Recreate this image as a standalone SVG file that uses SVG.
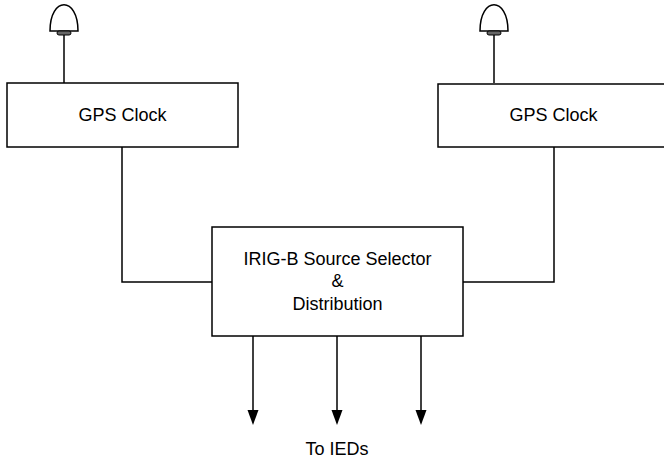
<svg xmlns="http://www.w3.org/2000/svg" width="664" height="460" viewBox="0 0 664 460">
<style>
.box{fill:#fff;stroke:#000;stroke-width:1.5}
.ln{fill:none;stroke:#000;stroke-width:1.5}
.dome{fill:#fff;stroke:#000;stroke-width:1.5}
.base{fill:#666;stroke:#000;stroke-width:1}
.head{fill:#000}
text{font-family:"Liberation Sans",Arial,sans-serif;font-size:18px;fill:#000;text-anchor:middle}
</style>
<defs>
<g id="antenna">
<path class="dome" d="M-14,27 C-14,-8 14,-8 14,27 Z"/>
<rect class="base" x="-7" y="27" width="14" height="4" rx="2"/>
<line class="ln" x1="0" y1="31" x2="0" y2="79"/>
</g>
</defs>
<g id="connectors">
<path class="ln" d="M122,147 V282 H212"/>
<path class="ln" d="M554,147 V282 H463"/>
<line class="ln" x1="253" y1="336" x2="253" y2="412"/>
<line class="ln" x1="337" y1="336" x2="337" y2="412"/>
<line class="ln" x1="421" y1="336" x2="421" y2="412"/>
<path class="head" d="M247.5,410 L258.5,410 L253,425 Z"/>
<path class="head" d="M331.5,410 L342.5,410 L337,425 Z"/>
<path class="head" d="M415.5,410 L426.5,410 L421,425 Z"/>
</g>
<g id="gps1">
<use href="#antenna" x="64" y="4"/>
<rect class="box" x="7" y="83" width="231" height="64"/>
<text x="122.5" y="121">GPS Clock</text>
</g>
<g id="gps2">
<use href="#antenna" x="494" y="4"/>
<rect class="box" x="438" y="84" width="232" height="63"/>
<text x="553.5" y="121">GPS Clock</text>
</g>
<g id="selector">
<rect class="box" x="212" y="227" width="251" height="109"/>
<text x="337.5" y="265">IRIG-B Source Selector</text>
<text x="337.5" y="287">&amp;</text>
<text x="337.5" y="310">Distribution</text>
</g>
<g id="ieds">
<text x="337" y="455">To IEDs</text>
</g>
</svg>
